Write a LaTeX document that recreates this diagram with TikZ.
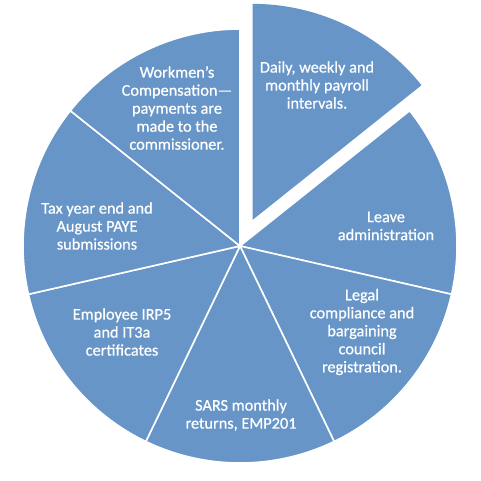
\documentclass[tikz,border=0pt]{standalone}
\usepackage{fontspec}
\setmainfont{Carlito}
\newfontfamily\piefont[FakeBold=0.6]{Carlito}
\definecolor{pieblue}{HTML}{6795C7}
\usepackage{tikz}
\usetikzlibrary{calc}

\begin{document}
\begin{tikzpicture}[
    x=1pt, y=1pt,
    slice/.style={fill=pieblue, draw=white, line width=1.6pt, line join=round},
    lbl/.style={align=center, text=white, font=\piefont\fontsize{16.3}{18}\selectfont},
]
    \useasboundingbox (0,0) rectangle (480,481);
    \coordinate (c) at (240,235);
    \coordinate (cx) at ($(c)+(64.29:29)$);

    % pulled-out slice
    \fill[pieblue] (cx) -- ++(90:216) arc[start angle=90, end angle=38.57, radius=216] -- cycle;

    % remaining six slices
    \foreach \a in {38.57, -12.86, -64.29, -115.71, -167.14, -218.57}
        \draw[slice] (c) -- ++(\a:217) arc[start angle=\a, end angle=\a-51.43, radius=217] -- cycle;

    % labels
    \node[lbl] (daily) at (317,396) {Daily, weekly and\\monthly payroll\\intervals.};
    \node[lbl] (leave) at (386,255) {Leave\\administration};
    \node[lbl] (legal) at (362,149) {Legal\\compliance and\\bargaining\\council\\registration.};
    \node[lbl] (sars) at (241,66) {SARS monthly\\returns, EMP201};
    \node[lbl] (irp) at (122,149) {Employee IRP5\\and IT3a\\certificates};
    \node[lbl] (tax) at (97,255) {Tax year end and\\August PAYE\\submissions};
    \node[lbl] (work) at (177,373) {Workmen’s\\Compensation—\\payments are\\made to the\\commissioner.};
\end{tikzpicture}
\end{document}
